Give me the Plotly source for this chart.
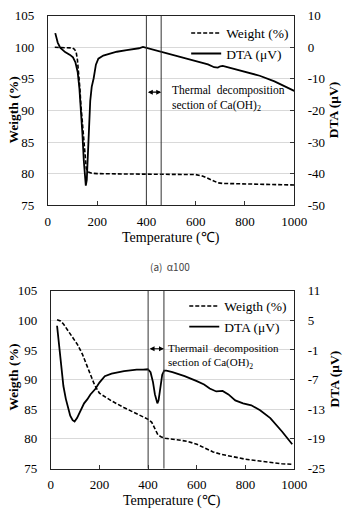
import plotly.graph_objects as go

# ---------------- Data ----------------
# (a) alpha100
temp_w1 = [28, 60, 90, 100, 108, 115, 120, 125, 130, 134, 141, 147, 152, 156, 160, 167, 180, 200,
           300, 400, 500, 600, 630, 650, 670, 690, 710, 750, 800, 900, 1000]
weight1 = [100, 100, 100, 99.9, 99.7, 99.2, 98.0, 96.1, 93.5, 90.9, 87.8, 84.7, 82.3, 80.8, 80.5, 80.2,
           80.05, 80.0, 79.95, 79.9, 79.9, 79.85, 79.6, 79.25, 78.85, 78.55, 78.45, 78.4, 78.35, 78.3, 78.2]

temp_d1 = [30, 40, 50, 70, 90, 102, 112, 121, 128, 134, 140, 146, 151, 154, 158, 163, 167, 172, 178,
           186, 195, 205, 225, 244, 280, 320, 348, 370, 386, 410, 440, 470, 500, 550, 600, 650, 675,
           690, 700, 710, 740, 800, 860, 920, 960, 1000]
dta1 = [4.5, 1.5, -0.1, -1.5, -2.4, -3.2, -4.8, -7.8, -13, -19, -27, -36, -42, -43.8, -42, -33, -24,
        -17, -12.5, -9.8, -5.5, -3.6, -2.6, -2.1, -1.4, -0.9, -0.6, -0.3, 0.1, -0.4, -1.0, -1.7, -2.3,
        -3.2, -4.2, -5.4, -6.3, -6.4, -6.0, -5.9, -6.5, -7.7, -9.0, -10.8, -12.3, -13.8]

# (b) second sample
temp_w2 = [26, 40, 52, 65, 80, 95, 110, 130, 157, 180, 200, 250, 300, 350, 400, 415, 428, 440, 455,
           470, 510, 560, 600, 640, 667, 700, 750, 796, 850, 902, 950, 992]
weight2 = [100.1, 99.9, 99.4, 98.6, 97.6, 96.7, 95.9, 94.3, 91.5, 89.1, 87.7, 86.4, 85.3, 84.3, 83.3,
           82.8, 81.8, 80.7, 80.3, 80.1, 79.9, 79.6, 79.1, 78.3, 77.8, 77.4, 77.0, 76.6, 76.3, 76.0,
           75.8, 75.7]

temp_d2 = [26, 33, 42, 52, 62, 71, 80, 90, 98, 108, 120, 137, 150, 163, 183, 200, 222, 250, 301, 353,
           380, 399, 410, 420, 428, 433, 438, 443, 450, 458, 466, 475, 500, 550, 600, 630, 653, 680,
           706, 730, 758, 790, 824, 860, 902, 950, 992]
dta2 = [3.9, 0.2, -4.0, -8.3, -10.9, -12.8, -14.3, -15.2, -15.5, -14.8, -13.5, -11.8, -11.0, -10.0,
        -8.9, -7.6, -6.3, -5.8, -5.3, -5.0, -5.0, -4.9, -5.5, -7.5, -10, -11.2, -11.8, -11.2, -8.5,
        -6.0, -5.2, -5.2, -5.5, -6.3, -7.3, -8.0, -8.8, -9.4, -9.3, -10.0, -11.2, -11.8, -12.2, -13.2,
        -14.8, -17.5, -20.1]

x_ticks = [0, 200, 400, 600, 800, 1000]
left_ticks = [75, 80, 85, 90, 95, 100, 105]
right_ticks1 = [-50, -40, -30, -20, -10, 0, 10]
right_ticks2 = [-25, -19, -13, -7, -1, 5, 11]
section1 = [400, 460]
section2 = [400, 465]

W, H = 353, 528
SERIF = "Liberation Serif, Times New Roman, serif"

fig = go.Figure()

dash_style = "4px,2px"
fig.add_trace(go.Scatter(x=temp_w1, y=weight1, mode="lines", name="Weight (%)",
                         line=dict(color="black", width=1.6, dash=dash_style),
                         xaxis="x", yaxis="y", legend="legend"))
fig.add_trace(go.Scatter(x=temp_d1, y=dta1, mode="lines", name="DTA (μV)",
                         line=dict(color="black", width=1.8),
                         xaxis="x", yaxis="y2", legend="legend"))
fig.add_trace(go.Scatter(x=temp_w2, y=weight2, mode="lines", name="Weigth (%)",
                         line=dict(color="black", width=1.6, dash=dash_style),
                         xaxis="x3", yaxis="y3", legend="legend2"))
fig.add_trace(go.Scatter(x=temp_d2, y=dta2, mode="lines", name="DTA (μV)",
                         line=dict(color="black", width=1.8),
                         xaxis="x3", yaxis="y4", legend="legend2"))


def px(v):
    return v / W


def py(v):
    return 1 - v / H


tick_font = dict(family=SERIF, size=13, color="black")


def xax(domain, anchor):
    return dict(domain=domain, anchor=anchor, range=[0, 1000], tickvals=x_ticks,
                ticks="inside", ticklen=4, tickcolor="#333", showline=True, mirror=True,
                linecolor="#222", linewidth=1, showgrid=False, zeroline=False,
                tickfont=tick_font, ticklabelstandoff=4, fixedrange=True)


def yleft(domain, anchor, rng, tv):
    return dict(domain=domain, anchor=anchor, range=rng, tickvals=tv, ticks="",
                showline=True, linecolor="#222", linewidth=1, showgrid=True,
                gridcolor="#d9d9d9", gridwidth=1, zeroline=False, tickfont=tick_font,
                ticklabelstandoff=10)


def yright(overlay, anchor, rng, tv):
    return dict(overlaying=overlay, anchor=anchor, side="right", range=rng, tickvals=tv,
                ticktext=[str(v) for v in tv],
                ticks="inside", ticklen=4, tickcolor="#333", showline=True, linecolor="#222",
                linewidth=1, showgrid=False, zeroline=False, tickfont=tick_font,
                ticklabelstandoff=10)


top_x = [px(47), px(305)]
top_y = [py(204), py(9)]
bot_x = [px(50), px(305)]
bot_y = [py(475), py(292)]

fig.update_layout(
    width=W, height=H,
    margin=dict(l=0, r=0, t=0, b=0),
    paper_bgcolor="white", plot_bgcolor="white",
    font=dict(family=SERIF, size=13, color="black"),
    xaxis=xax(top_x, "y"),
    yaxis=yleft(top_y, "x", [75, 105], left_ticks),
    yaxis2=yright("y", "x", [-50, 10], right_ticks1),
    xaxis3=xax(bot_x, "y3"),
    yaxis3=yleft(bot_y, "x3", [75, 105], left_ticks),
    yaxis4=yright("y3", "x3", [-25, 11], right_ticks2),
    legend=dict(x=px(305), y=py(11), xanchor="right", yanchor="top",
                bgcolor="rgba(0,0,0,0)", borderwidth=0,
                font=dict(family=SERIF, size=13.5, color="black"),
                tracegroupgap=0, itemwidth=30),
    legend2=dict(x=px(303), y=py(292), xanchor="right", yanchor="top",
                 bgcolor="rgba(0,0,0,0)", borderwidth=0,
                 font=dict(family=SERIF, size=13.5, color="black"),
                 tracegroupgap=0, itemwidth=30),
    showlegend=True,
)

shapes = []
for xv in section1:
    shapes.append(dict(type="line", xref="x", yref="y domain", x0=xv, x1=xv, y0=0, y1=1,
                       line=dict(color="#333", width=1)))
for xv in section2:
    shapes.append(dict(type="line", xref="x3", yref="y3 domain", x0=xv, x1=xv, y0=0, y1=1,
                       line=dict(color="#333", width=1)))
fig.update_layout(shapes=shapes)

ann = []
ann.append(dict(x=section1[1], y=92.9, ax=section1[0], ay=92.9, xref="x", yref="y",
                axref="x", ayref="y", text="", showarrow=True, arrowhead=2, startarrowhead=2,
                arrowside="end+start", arrowsize=0.9, arrowwidth=1.1, arrowcolor="black"))
ann.append(dict(x=section2[1], y=95.2, ax=section2[0], ay=95.2, xref="x3", yref="y3",
                axref="x3", ayref="y3", text="", showarrow=True, arrowhead=2, startarrowhead=2,
                arrowside="end+start", arrowsize=0.9, arrowwidth=1.1, arrowcolor="black"))
ann.append(dict(x=px(175), y=py(94), xref="paper", yref="paper", xanchor="left", yanchor="middle",
                align="left", showarrow=False,
                text="Thermal  decomposition<br>section of Ca(OH)<sub>2</sub>",
                font=dict(family=SERIF, size=11.5, color="black")))
ann.append(dict(x=px(171), y=py(360), xref="paper", yref="paper", xanchor="left", yanchor="middle",
                align="left", showarrow=False,
                text="Thermail  decomposition<br>section of Ca(OH)<sub>2</sub>",
                font=dict(family=SERIF, size=11, color="black")))
for yc in [106, 381]:
    ann.append(dict(x=px(11), y=py(yc), xref="paper", yref="paper", showarrow=False,
                    xanchor="center", yanchor="middle",
                    textangle=-90, text="<b>Weigth (%)</b>",
                    font=dict(family=SERIF, size=13.5, color="black")))
for yc in [106, 383]:
    ann.append(dict(x=px(347), y=py(yc), xref="paper", yref="paper", showarrow=False,
                    xanchor="center", yanchor="middle",
                    textangle=-90, text="<b>DTA (μV)</b>",
                    font=dict(family=SERIF, size=13.5, color="black")))
for xc, yc in [(176, 238), (177.5, 508)]:
    ann.append(dict(x=px(xc), y=py(yc), xref="paper", yref="paper", showarrow=False,
                    xanchor="center", yanchor="middle",
                    text="Temperature (℃)",
                    font=dict(family=SERIF, size=14, color="black")))
ann.append(dict(x=px(175), y=py(267), xref="paper", yref="paper", showarrow=False,
                xanchor="center", yanchor="middle",
                text="(a)  α100", font=dict(family="Noto Sans CJK KR", size=10, color="#444")))
fig.update_layout(annotations=ann)

fig.write_html("out.html", config={"displayModeBar": False})
